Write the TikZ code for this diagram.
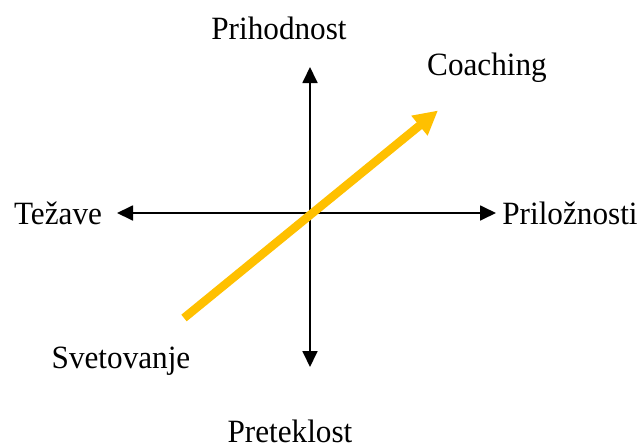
\documentclass[tikz,border=0pt]{standalone}
\usepackage{fontspec}
\setmainfont{Liberation Serif}
\usetikzlibrary{arrows.meta}
\definecolor{amber}{RGB}{255,192,0}
\tikzset{
  axis/.style={line width=1.8pt, -{Triangle[length=16pt,width=15pt]}},
  trend/.style={line width=8.5pt, draw=amber, -{Triangle[length=24pt,width=24pt]}},
  lbl/.style={font=\fontsize{32.5}{33}\selectfont, inner sep=0pt, text=black, anchor=base, xscale=0.96}
}
\begin{document}
\begin{tikzpicture}[x=1pt,y=-1pt]
  \useasboundingbox (0,0) rectangle (643,445);
  % axes of the cross
  \coordinate (o) at (310,213);
  \coordinate (top) at (310,67);
  \coordinate (bot) at (310,367);
  \coordinate (lft) at (117,213);
  \coordinate (rgt) at (496,213);
  \draw[axis] (o) -- (top);
  \draw[axis] (o) -- (bot);
  \draw[axis] (o) -- (lft);
  \draw[axis] (o) -- (rgt);
  % diagonal from advising towards coaching
  \coordinate (s) at (184,318);
  \coordinate (e) at (438,110.5);
  \draw[trend] (s) -- (e);
  % labels
  \node[lbl] (prih) at (279,39.5) {Prihodnost};
  \node[lbl] (coach) at (487,75) {Coaching};
  \node[lbl] (tez) at (58,224) {Težave};
  \node[lbl] (pril) at (570,224) {Priložnosti};
  \node[lbl] (svet) at (121,368) {Svetovanje};
  \node[lbl] (pret) at (290,442) {Preteklost};
\end{tikzpicture}
\end{document}
